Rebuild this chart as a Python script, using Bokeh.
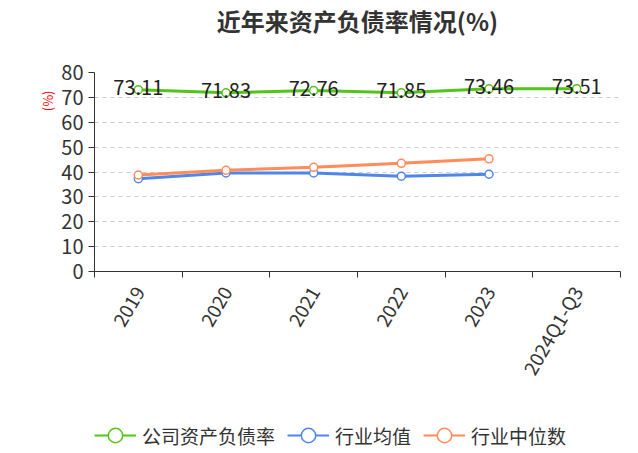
import math
from bokeh.plotting import figure
from bokeh.layouts import column
from bokeh.models import FixedTicker, Legend, LegendItem, Range1d, ColumnDataSource, Title
from bokeh.core.properties import value
from bokeh.embed import file_html
from bokeh.resources import INLINE

categories = ["2019", "2020", "2021", "2022", "2023", "2024Q1-Q3"]
company = [73.11, 71.83, 72.76, 71.85, 73.46, 73.51]
industry_avg = [37.3, 39.6, 39.6, 38.3, 39.1]
industry_median = [38.8, 40.7, 41.9, 43.5, 45.3]
y_ticks = [0, 10, 20, 30, 40, 50, 60, 70, 80]
title_text = "近年来资产负债率情况(%)"
unit_text = "(%)"
series_names = ["公司资产负债率", "行业均值", "行业中位数"]

FONT = "Noto Sans CJK SC"
GREEN = "#52c41a"
BLUE = "#4f86ea"
ORANGE = "#ff8c5a"
COLORS = [GREEN, BLUE, ORANGE]

xs = [i + 0.5 for i in range(len(categories))]

p = figure(output_backend="svg", toolbar_location=None,
           x_range=Range1d(0, len(categories)), y_range=Range1d(0, 80),
           min_border_left=94, min_border_right=18, min_border_top=0,
           min_border_bottom=143, frame_width=526, frame_height=199)

p.title.text = title_text
p.title.align = "center"
p.title.text_font = FONT
p.title.text_font_size = "24px"
p.title.text_font_style = "bold"
p.title.text_color = "#333333"
p.title.standoff = 0
# spacer between title and plot area
p.add_layout(Title(text=" ", text_font_size="1px", standoff=32), "above")

p.outline_line_color = None
p.xgrid.grid_line_color = None
p.ygrid.grid_line_color = "#cccccc"
p.ygrid.grid_line_dash = "4 4"
p.ygrid.ticker = FixedTicker(ticks=y_ticks)

# y axis
p.yaxis.ticker = FixedTicker(ticks=y_ticks)
p.yaxis.major_label_text_font = FONT
p.yaxis.major_label_text_font_size = "20px"
p.yaxis.major_label_text_color = "#333333"
p.yaxis.axis_line_color = "#333333"
p.yaxis.major_tick_line_color = "#333333"
p.yaxis.major_tick_out = 6
p.yaxis.major_tick_in = 0
p.yaxis.minor_tick_line_color = None

# unit label at the upper left, outside the y axis
p.add_layout(Title(text=unit_text, align="right", offset=18, standoff=4,
                   text_font=FONT, text_font_size="13px", text_font_style="normal",
                   text_color="red"), "left")

# x axis
p.xaxis.ticker = FixedTicker(ticks=xs, minor_ticks=list(range(len(categories) + 1)))
p.xaxis.major_label_overrides = {x: c for x, c in zip(xs, categories)}
p.xaxis.major_label_orientation = math.pi / 3
p.xaxis.major_label_text_font = FONT
p.xaxis.major_label_text_font_size = "19px"
p.xaxis.major_label_text_color = "#333333"
p.xaxis.major_label_standoff = 10
p.xaxis.major_tick_line_color = None
p.xaxis.minor_tick_line_color = "#333333"
p.xaxis.minor_tick_out = 6
p.xaxis.minor_tick_in = 0
p.xaxis.axis_line_color = "#333333"

def series(vals, color):
    x = xs[:len(vals)]
    p.line(x, vals, line_color=color, line_width=3)
    p.scatter(x, vals, size=8, marker="circle", fill_color="white",
              line_color=color, line_width=1.5)

for vals, color in zip([company, industry_avg, industry_median], COLORS):
    series(vals, color)

src = ColumnDataSource(dict(x=xs, y=company, t=["%.2f" % v for v in company]))
p.text(x="x", y="y", text="t", source=src, text_align="center",
       text_baseline="middle", text_font=value(FONT), text_font_size="20px",
       text_color="#222222", y_offset=-2)

# legend in its own strip below the chart
lf = figure(width=638, height=39, output_backend="svg", toolbar_location=None,
            x_range=Range1d(0, 1), y_range=Range1d(0, 1),
            x_axis_type=None, y_axis_type=None,
            min_border_left=0, min_border_right=0, min_border_top=0, min_border_bottom=0)
lf.outline_line_color = None
lf.xgrid.grid_line_color = None
lf.ygrid.grid_line_color = None

items = []
for name, color in zip(series_names, COLORS):
    l = lf.line([math.nan], [math.nan], line_color=color, line_width=2)
    s = lf.scatter([math.nan], [math.nan], size=18, marker="circle", fill_color="white",
                   line_color=color, line_width=1.5)
    items.append(LegendItem(label=name, renderers=[l, s]))

legend = Legend(items=items, orientation="horizontal", location=(0, 0),
                label_text_font=FONT, label_text_font_size="19px",
                label_text_color="#333333", glyph_width=42, glyph_height=36,
                spacing=12, border_line_color=None, background_fill_alpha=0,
                margin=0, padding=0, label_standoff=6)
lf.add_layout(legend, "center")

layout = column(p, lf, spacing=0)
open("out.html", "w").write(file_html(layout, INLINE))
